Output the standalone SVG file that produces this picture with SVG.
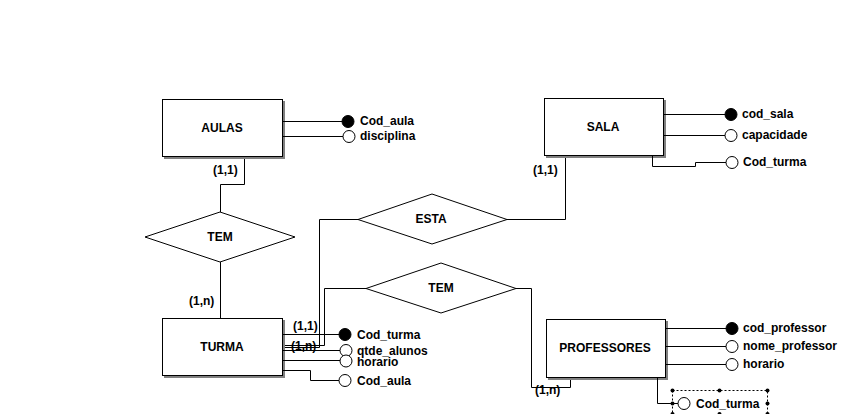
<svg xmlns="http://www.w3.org/2000/svg" width="847" height="414" viewBox="0 0 847 414">
<style>
text{font-family:"Liberation Sans",Arial,sans-serif;font-weight:bold;font-size:12px;fill:#000}
.c{text-anchor:middle}
.ln{fill:none;stroke:#000;stroke-width:1}
.box{fill:#fff;stroke:#000;stroke-width:1}
.sh{fill:#808080}
.dia{fill:#fff;stroke:#000;stroke-width:1}
.k{fill:#000;stroke:#000}
.o{fill:#fff;stroke:#000}
.sel{fill:none;stroke:#000;stroke-dasharray:2 2}
</style>
<rect width="847" height="414" fill="#fff"/>
<g id="connectors">
<polyline class="ln" points="244.5,156 244.5,184.5 220.5,184.5 220.5,212"/>
<polyline class="ln" points="220.5,262 220.5,318"/>
<polyline class="ln" points="565.5,155 565.5,219.5 507,219.5"/>
<polyline class="ln" points="358,219.5 319.5,219.5 319.5,347.5 282,347.5"/>
<polyline class="ln" points="366,288.5 324.5,288.5 324.5,345.5 282,345.5"/>
<polyline class="ln" points="516,288.5 531.5,288.5 531.5,387.5 570.5,387.5 570.5,378"/>
</g>
<g id="aulas">
<rect class="sh" x="164" y="101" width="121" height="58"/>
<rect class="box" x="162.5" y="99.5" width="120" height="57"/>
<text class="c" x="222" y="132">AULAS</text>
</g>
<g id="aulas-attrs">
<line class="ln" x1="283" y1="121.5" x2="342" y2="121.5"/>
<circle class="k" cx="348" cy="121.5" r="6"/>
<text x="360" y="125">Cod_aula</text>
<line class="ln" x1="283" y1="136.5" x2="343" y2="136.5"/>
<circle class="o" cx="349" cy="136.5" r="6"/>
<text x="360" y="140">disciplina</text>
</g>
<g id="sala">
<rect class="sh" x="546" y="100" width="120" height="58"/>
<rect class="box" x="544.5" y="98.5" width="119" height="57"/>
<text class="c" x="603" y="131">SALA</text>
</g>
<g id="sala-attrs">
<line class="ln" x1="664" y1="114.5" x2="725" y2="114.5"/>
<circle class="k" cx="731" cy="114.5" r="6"/>
<text x="742" y="118">cod_sala</text>
<line class="ln" x1="664" y1="135.5" x2="725" y2="135.5"/>
<circle class="o" cx="731" cy="135.5" r="6"/>
<text x="742" y="139">capacidade</text>
<polyline class="ln" points="652.5,156 652.5,166.5 695.5,166.5 695.5,162.5 726,162.5"/>
<circle class="o" cx="732" cy="162.5" r="6"/>
<text x="743" y="166">Cod_turma</text>
</g>
<g id="turma">
<rect class="sh" x="164" y="320" width="121" height="58"/>
<rect class="box" x="162.5" y="318.5" width="120" height="57"/>
<text class="c" x="222" y="351">TURMA</text>
</g>
<g id="turma-attrs">
<line class="ln" x1="283" y1="334.5" x2="339" y2="334.5"/>
<circle class="k" cx="345" cy="334.5" r="6"/>
<text x="357" y="339">Cod_turma</text>
<line class="ln" x1="283" y1="350.5" x2="340" y2="350.5"/>
<circle class="o" cx="346" cy="350.5" r="6"/>
<text x="357" y="355">qtde_alunos</text>
<line class="ln" x1="283" y1="360.5" x2="340" y2="360.5"/>
<circle class="o" cx="346" cy="361" r="6"/>
<text x="357" y="366">horario</text>
<polyline class="ln" points="283,370.5 310.5,370.5 310.5,380.5 339,380.5"/>
<circle class="o" cx="345" cy="380.5" r="6"/>
<text x="357" y="385">Cod_aula</text>
</g>
<g id="professores">
<rect class="sh" x="548" y="321" width="120" height="59"/>
<rect class="box" x="546.5" y="319.5" width="119" height="58"/>
<text class="c" x="605" y="352">PROFESSORES</text>
</g>
<g id="professores-attrs">
<line class="ln" x1="666" y1="328.5" x2="726" y2="328.5"/>
<circle class="k" cx="732" cy="328.5" r="6"/>
<text x="743" y="332">cod_professor</text>
<line class="ln" x1="666" y1="346.5" x2="726" y2="346.5"/>
<circle class="o" cx="732" cy="346.5" r="6"/>
<text x="743" y="350">nome_professor</text>
<line class="ln" x1="666" y1="364.5" x2="726" y2="364.5"/>
<circle class="o" cx="732" cy="364.5" r="6"/>
<text x="743" y="368">horario</text>
<polyline class="ln" points="657.5,378 657.5,403.5 678,403.5"/>
<circle class="o" cx="684" cy="403.5" r="6"/>
<text x="696" y="408">Cod_turma</text>
<rect class="sel" x="672.5" y="390.5" width="95" height="30"/>
<circle cx="672.5" cy="390.5" r="2"/>
<circle cx="719.5" cy="390.5" r="2"/>
<circle cx="767.5" cy="390.5" r="2"/>
<circle cx="672.5" cy="403.5" r="2"/>
<circle cx="767.5" cy="403.5" r="2"/>
<circle cx="672.5" cy="414" r="2"/>
<circle cx="719.5" cy="414" r="2"/>
<circle cx="767.5" cy="414" r="2"/>
</g>
<g id="tem1">
<polygon class="dia" points="145,237 220,212 295,237 220,262"/>
<text class="c" x="220" y="241">TEM</text>
</g>
<g id="esta">
<polygon class="dia" points="358,219.5 432,194 507,219.5 432,244"/>
<text class="c" x="431" y="223">ESTA</text>
</g>
<g id="tem2">
<polygon class="dia" points="366,288.5 441,263 516,288.5 441,313"/>
<text class="c" x="441" y="292">TEM</text>
</g>
<g id="labels">
<text x="213" y="174">(1,1)</text>
<text x="189" y="305">(1,n)</text>
<text x="533" y="174">(1,1)</text>
<text x="293" y="330">(1,1)</text>
<text x="291" y="350">(1,n)</text>
<text x="535" y="394">(1,n)</text>
</g>
</svg>
